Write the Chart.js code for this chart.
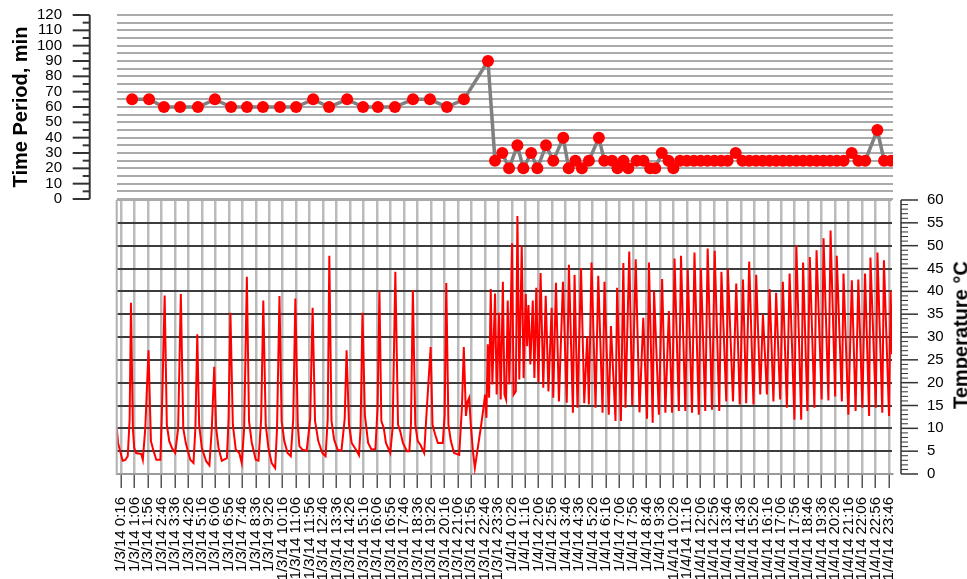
<!DOCTYPE html>
<html>
<head>
<meta charset="utf-8">
<script src="https://cdn.jsdelivr.net/npm/chart.js@4.4.0/dist/chart.umd.min.js"></script>
<style>
  html, body { margin: 0; padding: 0; background: #fff; overflow: hidden; }
  #wrap { position: relative; width: 967px; height: 579px; overflow: hidden; }
  canvas { position: absolute; left: 0; top: 0; }
  #tempTitle {
    position: absolute; left: 961px; top: 335px;
    transform: translate(-50%, -50%) rotate(-90deg);
    font: bold 20px "Liberation Sans", Arial, sans-serif; color: #000; white-space: nowrap;
  }
</style>
</head>
<body>
<div id="wrap">
  <canvas id="bottomChart" width="967" height="579"></canvas>
  <canvas id="topChart" width="967" height="579"></canvas>
  <div id="tempTitle">Temperature °C</div>
</div>
<script>
// ---------------- DATA ----------------
// x-axis tick labels (one every 50 minutes)
const xTickLabels = [
  '1/3/14 0:16','1/3/14 1:06','1/3/14 1:56','1/3/14 2:46','1/3/14 3:36','1/3/14 4:26','1/3/14 5:16','1/3/14 6:06',
  '1/3/14 6:56','1/3/14 7:46','1/3/14 8:36','1/3/14 9:26','1/3/14 10:16','1/3/14 11:06','1/3/14 11:56','1/3/14 12:46',
  '1/3/14 13:36','1/3/14 14:26','1/3/14 15:16','1/3/14 16:06','1/3/14 16:56','1/3/14 17:46','1/3/14 18:36','1/3/14 19:26',
  '1/3/14 20:16','1/3/14 21:06','1/3/14 21:56','1/3/14 22:46','1/3/14 23:36',
  '1/4/14 0:26','1/4/14 1:16','1/4/14 2:06','1/4/14 2:56','1/4/14 3:46','1/4/14 4:36','1/4/14 5:26','1/4/14 6:16',
  '1/4/14 7:06','1/4/14 7:56','1/4/14 8:46','1/4/14 9:36','1/4/14 10:26','1/4/14 11:16','1/4/14 12:06','1/4/14 12:56',
  '1/4/14 13:46','1/4/14 14:36','1/4/14 15:26','1/4/14 16:16','1/4/14 17:06','1/4/14 17:56','1/4/14 18:46','1/4/14 19:36',
  '1/4/14 20:26','1/4/14 21:16','1/4/14 22:06','1/4/14 22:56','1/4/14 23:46'
];

// Time period series (minutes since 1/3/14 0:00, period in min)
const periodMinutes = [
  57,120,175,235,301,364,424,483,542,605,665,728,787,854,913,968,1031,1098,1161,1224,1287,1376,
  1402,1429,1454,1485,1507,1536,1559,1591,1618,1655,1675,1700,1724,1750,1787,1807,1836,1856,1878,1896,
  1927,1952,1977,1996,2020,2045,2063,2088,
  2113,2139,2164,2189,2215,2240,2264,2294,
  2319,2344,2369,2394,2419,2444,2469,2494,2519,2544,2569,2594,2619,2644,2669,2694,
  2724,2749,2774,2819,2844,2869
];
const periodValues = [
  65,65,60,60,60,65,60,60,60,60,60,65,60,65,60,60,60,65,65,60,65,90,
  25,30,20,35,20,30,20,35,25,40,20,25,20,25,40,25,25,20,25,20,
  25,25,20,20,30,25,20,25,
  25,25,25,25,25,25,25,30,
  25,25,25,25,25,25,25,25,25,25,25,25,25,25,25,25,
  30,25,25,45,25,25
];

// Temperature series (minutes since 1/3/14 0:00, degrees C)
const tempMinutes = [
  0,5,13,22,32,41,48,53,60,65, 72,91,97,106,118,127,137,147,162,168,
  178,186,195,205,217,228,238,247,257,273, 285,292,299,306,316,332,344,353,362,369,
  378,390,409,415,422,431,442,455,464,473, 483,491,501,516,526,536,544,553,563,575,
  588,595,604,612,622,634,646,655,663,672, 678,690,705,718,727,736,748,763,775,783,
  789,797,807,820,834,846,853,862,872,888, 899,905,912,921,933,946,960,
  968,975,982,991,999,1007,1015,1024,1034,1044, 1052,1062,1077,1086,1092,1099,1108,1117,1127,1141,
  1151,1165,1172,1182,1192,1210,1217,1223,1231,1240, 1252,1271,1281,1288,1296,1302,1308,1314,1322,1329,
  1340,1351,1361,1367,1372,1377,1382,1388,1394,1404, 1410,1419,1425,1433,1439,1445,1451,1457,1467,1473,
  1481,1487,1494,1503,1510,1518,1523,1528,1535,1544, 1550,1557,1565,1573,1583,1592,1602,1614,1620,1630,
  1641,1656,1670,1678,1693,1699,1710,1723,1735,1746, 1752,1762,1777,1787,1803,1810,1826,1834,1851,1857,
  1871,1880,1888,1902,1913,
  1926,1940,1954,1968,1975,1989,1994,2012,2024,2036, 2049,2061,2070,2086,2094,2110,2119,2135,2144,2160,
  2168,2184,2193,2209,2219,2236,2244,2262,2268,2287, 2299,2312,2324,2336,2347,2363,2373,2388,2398,2413,
  2423,2437,2447,2462,2472,2487,2497,2515,2522,2540, 2547,2563,2572,2589,2597,2616,2623,2641,2649,2666,
  2672,2691,2697,2715,2728,2742,2752,2767,2777,2792, 2797,2817,2823,2841,2847,2866,2872,2877
];
const tempCelsius = [
  10.2,6.8,5,2.9,3.1,3.9,12,37.5,10,5.7, 4.6,4.4,3.1,10,27.1,7.2,5,3.1,3.1,14,
  39.1,10.8,7.2,5.7,4.6,10,39.4,10,6.6,3.1, 2.4,10,30.6,10.8,5.7,2.8,1.9,10,23.5,10.1,
  5.7,2.9,3.5,12,35.3,10.8,5.3,4.6,2.4,10, 43.2,11.6,6.9,3.1,2.9,12,38,10.8,5.7,2.4,
  1.3,10,39,11.6,7.2,4.6,3.9,12,38.4,10.8, 6.1,5.3,5.1,12,36.4,11.6,7.2,4.6,3.9,12,
  47.8,11.6,7.5,5.3,5.1,12,27.1,10.8,6.8,5.3, 4.1,10,35.3,12.9,6.8,5.3,5.5,
  14.5,40.1,11.6,10.1,6.8,5.7,4.6,10.1,44.3,10.8, 9.4,6.8,5,5,11,40.3,10.8,7.2,6.4,4.6,
  14.5,27.8,10.8,8.6,6.8,6.8,13,41.8,10.8,7.2, 4.6,4.2,14.5,27.8,12.7,15.9,16.7,10.8,5,1.3,
  5.7,10.1,14.5,17.4,12.3,28.4,16.7,40.5,19.6,39.5, 17.4,35.3,16.3,42.1,17.4,16.3,38,19.6,50.5,17.4,
  18.1,56.5,20.7,50,21,39.4,28,37,24,38, 21,40.8,20,44,18.9,39,18.1,36.4,16.7,41.9,
  15.9,42.1,15.6,45.8,13.4,43.6,14.5,45.1,15.5,30.2, 15.2,46.3,14.5,43.4,13.4,42.1,13,32.4,11.6,40.8,
  11.6,46.2,14.5,48.7,15,
  47,13.5,34.2,12.1,46.3,11.2,40.1,13,42.7,13.4, 35.7,13.4,47.2,13.8,47.8,13.8,44.8,13.4,48.5,13,
  45.1,13.8,49.4,14.1,48.9,13.8,44.3,15.9,44.9,15.9, 41.7,15.2,42.6,15.5,46.5,15.2,43.6,17.4,35,17.4,
  40.5,15.9,39.7,16.3,42.1,14.5,43.9,11.9,50.1,11.9, 46.3,13.8,47.5,14.5,49,16.3,51.6,16.1,53.3,17,
  47.8,15.9,43.9,13,42.4,13.8,42.6,14.5,43.9,12.7, 47.4,14.5,48.5,13.4,46.8,12.7,40.1,26.2
];

// ---------------- HELPERS ----------------
function labelToMinutes(s) {
  const parts = s.split(' ');
  const day = parseInt(parts[0].split('/')[1], 10) - 3;
  const hm = parts[1].split(':');
  return day * 1440 + parseInt(hm[0], 10) * 60 + parseInt(hm[1], 10);
}
const xTickMinutes = xTickLabels.map(labelToMinutes);
const X_MIN = 0, X_MAX = 2877;
const FONT = '"Liberation Sans", Arial, sans-serif';
const CLEAR = 'rgba(0,0,0,0)';

// axis line + major/minor tick marks drawn from the chart's own scale
const axisDecor = {
  id: 'axisDecor',
  afterDraw(chart, args, o) {
    const ctx = chart.ctx, ca = chart.chartArea;
    const s = chart.scales[o.scaleId];
    const ax = o.side === 'left' ? ca.left - o.gap : ca.right + o.gap;
    const dir = o.side === 'left' ? -1 : 1;
    ctx.save();
    ctx.strokeStyle = o.color;
    ctx.lineWidth = o.width;
    ctx.beginPath();
    ctx.moveTo(ax, s.getPixelForValue(s.min));
    ctx.lineTo(ax, s.getPixelForValue(s.max));
    ctx.stroke();
    for (let v = s.min; v <= s.max + 1e-9; v += o.minorStep) {
      const major = Math.abs(v % o.majorStep) < 1e-9;
      const py = s.getPixelForValue(v);
      ctx.lineWidth = major ? o.width : o.minorWidth;
      ctx.beginPath();
      ctx.moveTo(ax, py);
      ctx.lineTo(ax + dir * (major ? o.majorLen : o.minorLen), py);
      ctx.stroke();
    }
    if (o.edge) {
      const xs = chart.scales.x;
      const px = xs.getPixelForValue(xs.min);
      ctx.strokeStyle = '#b0b0b0';
      ctx.lineWidth = 2;
      ctx.beginPath();
      ctx.moveTo(px, ca.top);
      ctx.lineTo(px, ca.bottom);
      ctx.stroke();
    }
    ctx.restore();
  }
};

// ---------------- BOTTOM CHART (temperature) ----------------
new Chart(document.getElementById('bottomChart'), {
  type: 'line',
  data: {
    datasets: [{
      data: tempMinutes.map((m, i) => ({ x: m, y: tempCelsius[i] })),
      borderColor: '#ff0000',
      borderWidth: 2,
      pointRadius: 0,
      tension: 0,
      fill: false
    }]
  },
  options: {
    responsive: false,
    animation: false,
    devicePixelRatio: 1,
    layout: { padding: { left: 116.7, top: 200, right: 0, bottom: 0 } },
    plugins: {
      legend: { display: false },
      tooltip: { enabled: false },
      axisDecor: { scaleId: 'y', side: 'right', gap: 9, color: '#333', width: 1.5, minorWidth: 1,
                   majorStep: 5, minorStep: 1, majorLen: 17, minorLen: 7, edge: true }
    },
    scales: {
      x: {
        type: 'linear',
        min: X_MIN, max: X_MAX,
        afterBuildTicks: (scale) => { scale.ticks = xTickMinutes.map(v => ({ value: v })); },
        afterFit: (scale) => { scale.height = 105; },
        grid: { color: '#bbbbbb', lineWidth: 2.5, tickColor: '#555', tickWidth: 1.5, tickLength: 14 },
        border: { display: true, color: '#9a9a9a', width: 2 },
        ticks: {
          autoSkip: false, minRotation: 90, maxRotation: 90, padding: 9,
          color: '#000', font: { family: FONT, size: 15 },
          callback: (v, i) => xTickLabels[i]
        }
      },
      y: {
        type: 'linear',
        position: 'right',
        min: 0, max: 60,
        afterFit: (scale) => { scale.width = 75; },
        grid: {
          color: (c) => (c.tick && c.tick.value === 60) ? '#aaaaaa' : '#3c3c3c',
          lineWidth: 2, drawTicks: true, tickLength: 35, tickColor: CLEAR
        },
        border: { display: false },
        ticks: { stepSize: 5, autoSkip: false, padding: 0, color: '#000', font: { family: FONT, size: 15 } }
      }
    }
  },
  plugins: [axisDecor]
});

// ---------------- TOP CHART (time period) ----------------
new Chart(document.getElementById('topChart'), {
  type: 'line',
  data: {
    datasets: [{
      data: periodMinutes.map((m, i) => ({ x: m, y: periodValues[i] })),
      borderColor: '#808080',
      borderWidth: 3.5,
      pointRadius: 6,
      pointBackgroundColor: '#ff0000',
      pointBorderWidth: 0,
      tension: 0,
      fill: false
    }]
  },
  options: {
    responsive: false,
    animation: false,
    devicePixelRatio: 1,
    layout: { padding: { left: 0, top: 15, right: 74, bottom: 380 } },
    plugins: {
      legend: { display: false },
      tooltip: { enabled: false },
      axisDecor: { scaleId: 'y', side: 'left', gap: 27, color: '#333', width: 2, minorWidth: 2,
                   majorStep: 10, minorStep: 5, majorLen: 17, minorLen: 7, edge: false }
    },
    scales: {
      x: { type: 'linear', display: false, min: X_MIN, max: X_MAX },
      y: {
        type: 'linear',
        position: 'left',
        min: 0, max: 120,
        afterFit: (scale) => { scale.width = 116.7; },
        grid: { color: '#aaaaaa', lineWidth: 2, drawTicks: true, tickLength: 54.7, tickColor: CLEAR },
        border: { display: false },
        title: {
          display: true, text: 'Time Period, min', color: '#000',
          font: { family: FONT, size: 20, weight: 'bold' },
          padding: { top: 9, bottom: 0 }
        },
        ticks: {
          stepSize: 5, autoSkip: false, padding: 0, color: '#000',
          font: { family: FONT, size: 15 },
          callback: (v) => (v % 10 === 0 ? String(v) : '')
        }
      }
    }
  },
  plugins: [axisDecor]
});
</script>
</body>
</html>
